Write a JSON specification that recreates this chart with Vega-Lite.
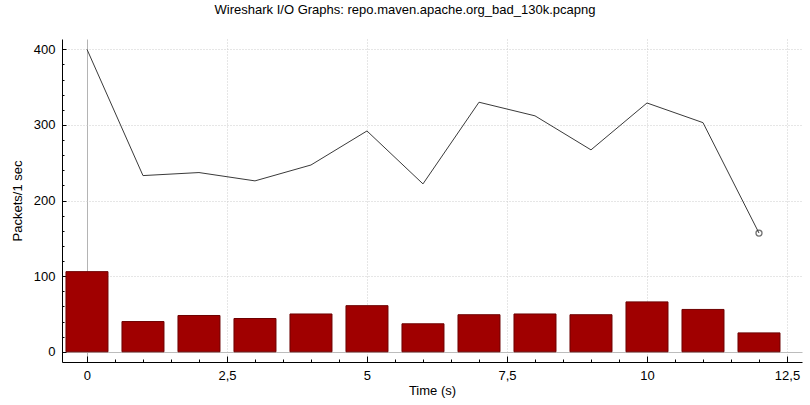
{
  "$schema": "https://vega.github.io/schema/vega-lite/v6.json",
  "width": 740,
  "height": 323,
  "autosize": "none",
  "padding": {"left": 62, "top": 39, "right": 8, "bottom": 43},
  "background": "white",
  "title": {
    "text": "Wireshark I/O Graphs: repo.maven.apache.org_bad_130k.pcapng",
    "font": "Liberation Sans",
    "fontSize": 13,
    "fontWeight": "normal",
    "color": "#000000",
    "anchor": "middle",
    "dx": -27,
    "offset": 22
  },
  "config": {
    "view": {"stroke": null},
    "axis": {
      "labelFont": "Liberation Sans",
      "titleFont": "Liberation Sans",
      "labelFontSize": 13,
      "titleFontSize": 13,
      "titleFontWeight": "normal",
      "labelColor": "#000000",
      "titleColor": "#000000",
      "domainColor": "#000000",
      "tickColor": "#000000",
      "domainWidth": 1,
      "tickWidth": 1,
      "labelOverlap": false
    }
  },
  "data": {
    "values": [
      {"t": 0, "all": 400, "filtered": 106},
      {"t": 1, "all": 233, "filtered": 40},
      {"t": 2, "all": 237, "filtered": 48},
      {"t": 3, "all": 226, "filtered": 44},
      {"t": 4, "all": 247, "filtered": 50},
      {"t": 5, "all": 292, "filtered": 61},
      {"t": 6, "all": 222, "filtered": 37},
      {"t": 7, "all": 330, "filtered": 49},
      {"t": 8, "all": 312, "filtered": 50},
      {"t": 9, "all": 267, "filtered": 49},
      {"t": 10, "all": 329, "filtered": 66},
      {"t": 11, "all": 303, "filtered": 56},
      {"t": 12, "all": 157, "filtered": 25}
    ]
  },
  "encoding": {
    "x": {
      "field": "t",
      "type": "quantitative",
      "scale": {"domain": [-0.446, 12.768], "nice": false, "zero": false, "padding": 0},
      "axis": {
        "title": "Time (s)",
        "values": [0, 0.5, 1, 1.5, 2, 2.5, 3, 3.5, 4, 4.5, 5, 5.5, 6, 6.5, 7, 7.5, 8, 8.5, 9, 9.5, 10, 10.5, 11, 11.5, 12, 12.5],
        "tickCount": 100,
        "labelExpr": "datum.value % 2.5 == 0 ? replace(format(datum.value, '~g'), '.', ',') : ''",
        "labelPadding": 13,
        "titlePadding": -1,
        "tickSize": {"condition": {"test": "datum.value % 2.5 == 0", "value": -6}, "value": -3},
        "grid": true,
        "gridDash": {"condition": {"test": "datum.value == 0", "value": []}, "value": [1, 2]},
        "gridColor": {"condition": {"test": "datum.value == 0", "value": "#b4b4b4"}, "value": "#cccccc"},
        "gridOpacity": {"condition": {"test": "datum.value % 2.5 != 0", "value": 0}, "value": 1},
        "labelFlush": false
      }
    }
  },
  "layer": [
    {
      "mark": {"type": "bar", "size": 42, "fill": "#a00000", "stroke": "#6e0000", "strokeWidth": 1},
      "encoding": {
        "y": {
          "field": "filtered",
          "type": "quantitative",
          "scale": {"domain": [-13.5, 413.6], "nice": false, "zero": false},
          "axis": {
            "title": "Packets/1 sec",
            "values": [0, 20, 40, 60, 80, 100, 120, 140, 160, 180, 200, 220, 240, 260, 280, 300, 320, 340, 360, 380, 400],
            "tickCount": 100,
            "labelExpr": "datum.value % 100 == 0 ? format(datum.value, 'd') : ''",
            "labelPadding": 11,
            "titlePadding": 9,
            "tickSize": {"condition": {"test": "datum.value % 100 == 0", "value": -4}, "value": -2},
            "grid": true,
            "gridDash": {"condition": {"test": "datum.value == 0", "value": []}, "value": [1, 2]},
            "gridColor": {"condition": {"test": "datum.value == 0", "value": "#bcbcbc"}, "value": "#cccccc"},
            "gridOpacity": {"condition": {"test": "datum.value % 100 != 0", "value": 0}, "value": 1},
            "labelFlush": false
          }
        }
      }
    },
    {
      "mark": {"type": "line", "color": "#3a3a3a", "strokeWidth": 1},
      "encoding": {
        "y": {"field": "all", "type": "quantitative"}
      }
    },
    {
      "transform": [{"filter": "datum.t == 12"}],
      "mark": {"type": "point", "shape": "circle", "filled": false, "size": 36, "stroke": "#333333", "strokeWidth": 1.3},
      "encoding": {
        "y": {"field": "all", "type": "quantitative"}
      }
    }
  ]
}
